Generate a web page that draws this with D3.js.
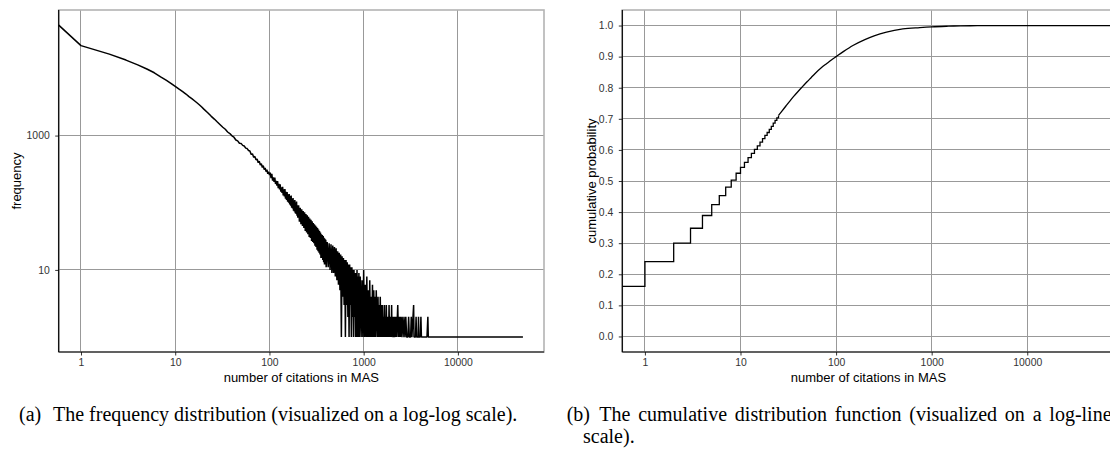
<!DOCTYPE html>
<html>

<head>
    <meta charset="UTF-8">
    <title>Citations in MAS</title>
    <style type="text/css">
        body {
            margin: 0;
            background: #fff;
        }

        svg {
            display: block;
        }

        .tick text {
            font-family: "Liberation Sans", Arial, sans-serif;
            font-size: 10.4px;
            fill: #333;
        }

        .tick line {
            stroke: #333;
        }

        .domain {
            display: none;
        }

        .grid line {
            stroke: #999;
            stroke-width: 1;
            shape-rendering: crispEdges;
        }

        .frame {
            fill: none;
            stroke: #b3b3b3;
            stroke-width: 1.6;
        }

        .axis-line {
            stroke: #000;
            stroke-width: 1.2;
        }

        .label {
            font-family: "Liberation Sans", Arial, sans-serif;
            font-size: 13px;
            text-anchor: middle;
            fill: #000;
        }

        .caption {
            font-family: "Liberation Serif", "Times New Roman", serif;
            font-size: 20px;
            fill: #000;
        }
    </style>

    <script src="https://d3js.org/d3.v7.min.js"></script>
</head>

<body>
    <script type="text/javascript">
        // ---- data ----
        // frequency of each citation count (0 citations is drawn on the left edge, like ggplot's -Inf)
        const headCites = [0, 1, 2, 3, 4, 5, 6, 7, 8, 9, 10, 11, 12, 13, 14, 15, 16, 17, 18, 19, 20, 22, 24, 26, 28, 30, 32, 34, 36, 38,
            40, 42, 44, 46, 48, 50, 52, 54, 56, 58, 60, 62, 64, 66, 68, 70, 72, 74, 76, 78, 80, 82, 84, 86, 88, 90, 92, 94, 96, 98];
        const headFreq = [44000, 21800, 16300, 13300, 11300, 9800, 8600, 7500, 6700, 6000, 5400, 4900, 4500, 4150, 3800, 3550, 3300, 3080, 2880, 2680,
            2500, 2200, 1950, 1760, 1590, 1450, 1330, 1240, 1130, 1070, 990, 945, 860, 835, 770, 765, 715, 700, 650, 640,
            600, 590, 525, 535, 475, 490, 435, 448, 395, 415, 365, 382, 335, 356, 312, 330, 290, 310, 270, 290];

        const midCites = [100, 102, 104, 106, 108, 110, 112, 114, 116, 118, 120, 122, 124, 126, 128, 130, 132, 134, 136, 138,
            140, 142, 144, 146, 148, 150, 152, 154, 156, 158, 160, 162, 164, 166, 168, 170, 172, 174, 176, 178,
            180, 182, 184, 186, 188, 190, 192, 194, 196, 198, 200,
            204, 208, 212, 216, 220, 224, 228, 232, 236, 240, 244, 248, 252, 256, 260, 264, 268, 272, 276, 280,
            284, 288, 292, 296, 300, 304, 308, 312, 316, 320, 324, 328, 332, 336, 340, 344, 348, 352, 356, 360,
            364, 368, 372, 376, 380, 384, 388, 392, 396, 400];
        const midFreq = [258, 280, 232, 270, 214, 238, 205, 236, 190, 212, 180, 210, 165, 192, 158, 188, 146, 170, 140, 172,
            128, 158, 124, 160, 115, 146, 110, 144, 104, 134, 100, 135, 94, 126, 90, 128, 84, 115, 82, 118,
            76, 108, 74, 110, 70, 100, 68, 104, 64, 92, 60,
            92, 52, 84, 48, 80, 45, 75, 42, 72, 38, 68, 36, 65, 34, 62, 31, 58, 30, 56, 27,
            53, 26, 50, 25, 48, 23, 46, 22, 44, 20, 42, 19, 40, 18, 38, 17, 36, 15, 34, 15,
            33, 14, 32, 13, 30, 12, 29, 12, 28, 11];

        const lowCites = [410, 420, 430, 440, 450, 460, 470, 480, 490, 500, 510, 520, 530, 540, 550, 560, 570, 580, 590, 600,
            610, 620, 630, 640, 650, 660, 670, 680, 690, 700, 710, 720, 730, 740, 750, 760, 770, 780, 790, 800,
            810, 820, 830, 840, 850, 860, 870, 880, 890, 900];
        const lowFreq = [26, 11, 25, 10, 24, 9, 23, 9, 22, 8, 21, 7, 19, 6, 18, 5, 17, 1, 16, 4,
            15, 3, 14, 1, 14, 3, 13, 2, 12, 1, 12, 3, 11, 1, 11, 2, 10, 1, 10, 2,
            9, 1, 9, 1, 10, 1, 8, 1, 9, 1];

        const tailCites = [920, 940, 960, 980, 1000, 1020, 1040, 1060, 1080, 1100, 1120, 1140, 1160, 1180, 1200, 1220, 1240, 1260, 1280, 1300,
            1320, 1340, 1360, 1380, 1400, 1420, 1440, 1460, 1480, 1500, 1520, 1540, 1560, 1580, 1600, 1620, 1640, 1660, 1680, 1700,
            1720, 1740, 1760, 1780, 1800, 1820, 1840, 1860, 1880, 1900, 1920, 1940, 1960, 1980, 2000,
            2040, 2080, 2120, 2160, 2200, 2240, 2300, 2340, 2380, 2420, 2460, 2500, 2560, 2620, 2680, 2740, 2800, 2860, 2950, 3000,
            3050, 3150, 3200, 3250, 3390, 3420, 3550, 3600, 3640, 3780, 3820, 3860, 4000, 4050, 4100, 4700, 4800, 4850, 49000];
        const tailFreq = [8, 1, 7, 1, 10, 1, 6, 1, 8, 1, 5, 1, 7, 1, 4, 1, 6, 1, 5, 1,
            4, 1, 5, 2, 1, 4, 1, 3, 1, 4, 1, 3, 1, 3, 1, 2, 1, 3, 1, 2,
            1, 3, 1, 2, 1, 2, 1, 3, 1, 2, 1, 2, 1, 3, 1,
            2, 1, 2, 1, 2, 1, 3, 1, 2, 1, 2, 1, 2, 1, 2, 1, 2, 1, 1, 2,
            1, 1, 2, 1, 3, 1, 1, 2, 1, 1, 2, 1, 1, 2, 1, 1, 2, 1, 1];

        // cumulative probability (Infinity = ecdf padding to the right edge)
        const cdfCites = [0, 1, 2, 3, 4, 5, 6, 7, 8, 9, 10, 11, 12, 13, 14, 15, 16, 17, 18, 19, 20, 21, 22, 23, 24, 25,
            27, 30, 33, 36, 40, 45, 50, 55, 60, 70, 80, 90, 100, 120, 150, 200, 250, 337, 500, 750, 1000, 1500, 2000,
            3000, 5000, 10000, Infinity];
        const cdfProb = [0.161, 0.241, 0.300, 0.348, 0.389, 0.424, 0.453, 0.480, 0.503, 0.525, 0.544, 0.560, 0.575, 0.589, 0.602, 0.613,
            0.625, 0.636, 0.647, 0.656, 0.666, 0.676, 0.686, 0.695, 0.703, 0.711,
            0.724, 0.742, 0.758, 0.772, 0.788, 0.805, 0.820, 0.833, 0.845, 0.864, 0.878, 0.890, 0.900, 0.917, 0.936, 0.955, 0.967, 0.979,
            0.989, 0.9935, 0.996, 0.998, 0.999, 0.9995, 0.9998, 1.0, 1.0];

        const xTicks = [1, 10, 100, 1000, 10000];
        const freqTicks = [10, 1000];
        const probTicks = [0, 0.1, 0.2, 0.3, 0.4, 0.5, 0.6, 0.7, 0.8, 0.9, 1.0];

        const svg = d3.select("body").append("svg")
            .attr("width", 1110)
            .attr("height", 449);

        // draws the frame, grid and axes of one panel
        function drawPanel(box, x, y, yTicks, yFormat, yTitle, yTitleX) {
            const g = svg.append("g");

            const grid = g.append("g").attr("class", "grid");
            grid.selectAll(".vx").data(xTicks).join("line")
                .attr("x1", d => x(d)).attr("x2", d => x(d))
                .attr("y1", box.top).attr("y2", box.bottom);
            grid.selectAll(".hy").data(yTicks).join("line")
                .attr("x1", box.left).attr("x2", box.right)
                .attr("y1", d => y(d)).attr("y2", d => y(d));

            g.append("rect")
                .attr("class", "frame")
                .attr("x", box.left).attr("y", box.top)
                .attr("width", box.right - box.left)
                .attr("height", box.bottom - box.top);

            g.append("g")
                .attr("transform", `translate(0,${box.bottom})`)
                .call(d3.axisBottom(x).tickValues(xTicks).tickFormat(d3.format("d"))
                    .tickSize(3.5).tickPadding(3.5).tickSizeOuter(0));

            g.append("g")
                .attr("transform", `translate(${box.left},0)`)
                .call(d3.axisLeft(y).tickValues(yTicks).tickFormat(yFormat)
                    .tickSize(3.5).tickPadding(5.5).tickSizeOuter(0));

            // x title
            g.append("text")
                .attr("class", "label")
                .attr("x", (box.left + box.right) / 2)
                .attr("y", 382)
                .text("number of citations in MAS");

            // y title
            g.append("text")
                .attr("class", "label")
                .attr("transform", `translate(${yTitleX},${(box.top + box.bottom) / 2}) rotate(-90)`)
                .attr("dy", "0.35em")
                .text(yTitle);

            return g;
        }

        function drawAxisLines(g, box) {
            g.append("line").attr("class", "axis-line")
                .attr("x1", box.left).attr("x2", box.left)
                .attr("y1", box.top).attr("y2", box.bottom);
            g.append("line").attr("class", "axis-line")
                .attr("x1", box.left).attr("x2", box.right)
                .attr("y1", box.bottom).attr("y2", box.bottom);
        }

        // ---- (a) frequency, log-log ----
        const boxA = { left: 58.7, right: 544, top: 10, bottom: 352 };
        const xA = d3.scaleLog().domain([0.58, 82000]).range([boxA.left, boxA.right]).clamp(true);
        const yA = d3.scaleLog().domain([0.6, 74000]).range([boxA.bottom, boxA.top]);

        const gA = drawPanel(boxA, xA, yA, freqTicks, d3.format("d"), "frequency", 16.5);

        const allFreq = headFreq.concat(midFreq, lowFreq, tailFreq);
        const freqData = headCites.concat(midCites, lowCites, tailCites).map((c, i) => ({ c: c, f: allFreq[i] }));

        gA.append("path")
            .datum(freqData)
            .attr("fill", "none")
            .attr("stroke", "#000")
            .attr("stroke-width", 1.5)
            .attr("stroke-linejoin", "bevel")
            .attr("d", d3.line().x(d => xA(d.c)).y(d => yA(d.f)));

        drawAxisLines(gA, boxA);

        // ---- (b) cumulative distribution, log-linear ----
        const boxB = { left: 622.3, right: 1114.6, top: 10, bottom: 352 };
        const xB = d3.scaleLog().domain([0.58, 82000]).range([boxB.left, boxB.right]).clamp(true);
        const yB = d3.scaleLinear().domain([-0.05, 1.05]).range([boxB.bottom, boxB.top]);

        const gB = drawPanel(boxB, xB, yB, probTicks, d3.format(".1f"), "cumulative probability", 591.5);

        const cdfData = cdfCites.map((c, i) => ({ c: c, p: cdfProb[i] }));

        // visible stairs for small counts, smooth beyond
        gB.append("path")
            .datum(cdfData.filter(d => d.c <= 25))
            .attr("fill", "none")
            .attr("stroke", "#000")
            .attr("stroke-width", 1.3)
            .attr("d", d3.line().curve(d3.curveStepAfter).x(d => xB(d.c)).y(d => yB(d.p)));

        gB.append("path")
            .datum(cdfData.filter(d => d.c >= 25))
            .attr("fill", "none")
            .attr("stroke", "#000")
            .attr("stroke-width", 1.3)
            .attr("d", d3.line().curve(d3.curveMonotoneX).x(d => xB(d.c)).y(d => yB(d.p)));

        drawAxisLines(gB, boxB);

        // ---- captions ----
        svg.append("text").attr("class", "caption").attr("x", 19).attr("y", 421).text("(a)");
        svg.append("text").attr("class", "caption").attr("x", 53).attr("y", 421)
            .text("The frequency distribution (visualized on a log-log scale).");

        // first line of (b) is justified in the source, so its spaces are wider
        svg.append("text").attr("class", "caption").attr("x", 566.7).attr("y", 421).text("(b)");
        svg.append("text").attr("class", "caption").attr("x", 599.3).attr("y", 421)
            .attr("word-spacing", 2.8)
            .text("The cumulative distribution function (visualized on a log-linear");
        svg.append("text").attr("class", "caption").attr("x", 583).attr("y", 443).text("scale).");
    </script>
</body>

</html>
